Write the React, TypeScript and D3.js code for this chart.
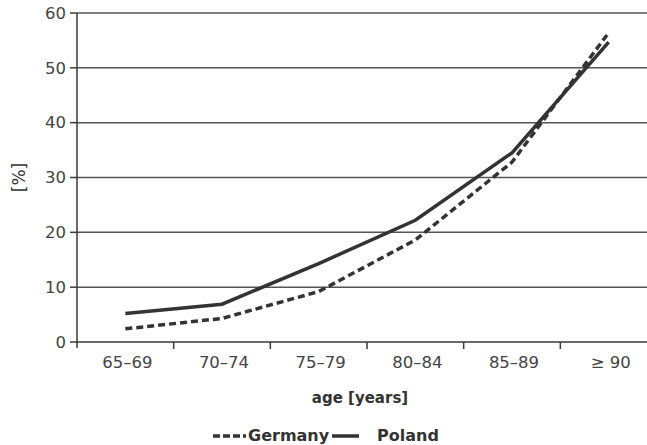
import * as d3 from 'd3';
import React from 'react';

const categories = ['65–69', '70–74', '75–79', '80–84', '85–89', '≥ 90'];
const germany = [2.4, 4.3, 9.2, 18.6, 32.8, 56.4];
const poland = [5.2, 6.9, 14.3, 22.2, 34.5, 54.7];
const yTicks = [0, 10, 20, 30, 40, 50, 60];

const W = 647;
const H = 445;
const left = 77;
const top = 13;
const bottom = 342;

const App = () => {
  const x = d3.scaleBand().domain(categories).range([left, 657]);
  const y = d3.scaleLinear().domain([0, 60]).range([bottom, top]);
  const cx = (i: number) => (x(categories[i]) as number) + x.bandwidth() / 2;

  const lineGen = d3
    .line<number>()
    .x((d, i) => cx(i))
    .y((d) => y(d));

  const font = '"DejaVu Sans", Verdana, sans-serif';
  const ink = '#3a3a3a';

  return (
    <svg
      width={W}
      height={H}
      style={{ position: 'absolute', left: 0, top: 0, background: '#fff' }}
      fontFamily={font}
    >
      {yTicks.map((t) => (
        <g key={t}>
          {t > 0 && (
            <line x1={left} x2={W} y1={y(t)} y2={y(t)} stroke="#555" strokeWidth={1.5} />
          )}
          <line x1={left - 7} x2={left} y1={y(t)} y2={y(t)} stroke={ink} strokeWidth={1.5} />
          <text
            x={left - 11}
            y={y(t)}
            dy="0.35em"
            textAnchor="end"
            fontSize={16.5}
            fill="#444"
          >
            {t}
          </text>
        </g>
      ))}
      <line x1={left} x2={W} y1={bottom} y2={bottom} stroke={ink} strokeWidth={1.5} />
      <line x1={left} x2={left} y1={top} y2={bottom + 6} stroke={ink} strokeWidth={1.5} />
      {categories.slice(1).map((c) => (
        <line
          key={c}
          x1={x(c) as number}
          x2={x(c) as number}
          y1={bottom}
          y2={bottom + 7}
          stroke={ink}
          strokeWidth={1.5}
        />
      ))}
      {categories.map((c, i) => (
        <text key={c} x={cx(i) + 2} y={368} textAnchor="middle" fontSize={16.5} fill="#444">
          {c}
        </text>
      ))}
      <text
        transform={`translate(25,${(top + bottom) / 2}) rotate(-90)`}
        textAnchor="middle"
        fontSize={17}
        fill="#333"
      >
        [%]
      </text>
      <text x={360} y={403} textAnchor="middle" fontSize={15} fontWeight="bold" fill="#333">
        age [years]
      </text>

      <path
        d={lineGen(germany) as string}
        fill="none"
        stroke="#333"
        strokeWidth={3.5}
        strokeDasharray="7,4"
      />
      <path d={lineGen(poland) as string} fill="none" stroke="#333" strokeWidth={3.5} />

      <g fontSize={16} fontWeight="bold" fill="#333">
        <line x1={213} x2={246} y1={436} y2={436} stroke="#333" strokeWidth={3.5} strokeDasharray="7,3" />
        <text x={248} y={441}>Germany</text>
        <line x1={332} x2={359} y1={436} y2={436} stroke="#333" strokeWidth={3.5} />
        <text x={377} y={441}>Poland</text>
      </g>
    </svg>
  );
};

export default App;
